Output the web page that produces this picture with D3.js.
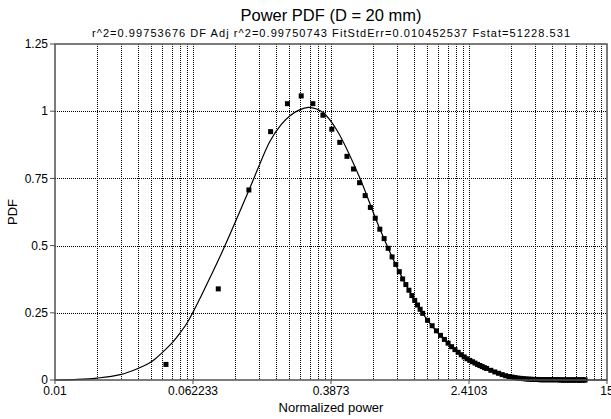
<!DOCTYPE html>
<html>
<head>
<meta charset="utf-8">
<script src="https://cdn.jsdelivr.net/npm/d3@7/dist/d3.min.js"></script>
<style>
  html, body { margin: 0; padding: 0; background: #fff; }
  svg { display: block; font-family: "Liberation Sans", Arial, sans-serif; }
</style>
</head>
<body>
<div id="chart"></div>
<script>
// measured bins (squares)
const pointX = [
  0.0435, 0.087, 0.1305, 0.174, 0.2175, 0.261, 0.3045, 0.348, 0.3915, 0.435,
  0.4785, 0.522, 0.5655, 0.609, 0.6525, 0.696, 0.7395, 0.783, 0.8265, 0.87,
  0.9135, 0.957, 1.0005, 1.044, 1.0875, 1.131, 1.1745, 1.218, 1.2615, 1.305,
  1.392, 1.479, 1.566, 1.653, 1.74, 1.827, 1.914, 2.001, 2.088, 2.175,
  2.262, 2.349, 2.436, 2.523, 2.61, 2.697, 2.784, 2.871, 2.958, 3.045,
  3.219, 3.393, 3.567, 3.741, 3.915, 4.089, 4.263, 4.437, 4.611, 4.785,
  4.959, 5.133, 5.307, 5.481, 5.655, 5.829, 6.003, 6.177, 6.351, 6.525,
  6.699, 6.873, 7.047, 7.221, 7.395, 7.569, 7.743, 7.917, 8.091, 8.265,
  8.439, 8.613, 8.787, 8.961, 9.135, 9.309, 9.483, 9.657, 9.831, 10.005,
  10.179, 10.353, 10.527, 10.701, 10.875, 11.049, 11.223
];
const pointY = [
  0.058, 0.339, 0.707, 0.924, 1.028, 1.057, 1.028, 0.985, 0.933, 0.884,
  0.832, 0.785, 0.734, 0.686, 0.642, 0.602, 0.561, 0.526, 0.490, 0.458,
  0.430, 0.403, 0.376, 0.355, 0.334, 0.314, 0.296, 0.279, 0.263, 0.248,
  0.222, 0.202, 0.183, 0.166, 0.151, 0.137, 0.124, 0.113, 0.103, 0.094,
  0.086, 0.079, 0.073, 0.068, 0.063, 0.058, 0.054, 0.050, 0.046, 0.043,
  0.036, 0.030, 0.025, 0.020, 0.016, 0.013, 0.011, 0.009, 0.007, 0.006,
  0.005, 0.004, 0.003, 0.003, 0.002, 0.002, 0.002, 0.001, 0.001, 0.001,
  0.001, 0.001, 0.001, 0.001, 0.001, 0.001, 0.001, 0.001, 0, 0,
  0, 0, 0, 0, 0, 0, 0, 0, 0, 0,
  0, 0, 0, 0, 0, 0, 0
];

// fitted curve
const fitX = [
  0.01, 0.01356, 0.01738, 0.02375, 0.02975, 0.0359, 0.0411, 0.0467, 0.0517, 0.0573,
  0.062, 0.0683, 0.089, 0.1307, 0.15, 0.1726, 0.2, 0.225, 0.255, 0.287,
  0.32, 0.35, 0.418, 0.569, 0.7, 0.87, 1.0, 1.2, 1.4, 1.7,
  2.0, 2.4, 3.0, 4.0, 5.0, 7.0, 10, 15
];
const fitY = [
  0, 0.002, 0.007, 0.02, 0.042, 0.068, 0.10, 0.135, 0.17, 0.21,
  0.25, 0.304, 0.459, 0.707, 0.80, 0.888, 0.950, 0.983, 1.005, 1.014,
  1.008, 0.994, 0.930, 0.750, 0.600, 0.458, 0.378, 0.285, 0.220, 0.155,
  0.112, 0.076, 0.045, 0.013, 0.004, 0.001, 0, 0
];

const xTicks = [0.01, 0.062233, 0.3873, 2.4103, 15];
const xTickLabels = ["0.01", "0.062233", "0.3873", "2.4103", "15"];
const yTicks = [0, 0.25, 0.5, 0.75, 1, 1.25];
const yTickLabels = ["0", "0.25", "0.5", "0.75", "1", "1.25"];

const title = "Power PDF (D = 20 mm)";
const subtitle = "r^2=0.99753676  DF Adj r^2=0.99750743  FitStdErr=0.010452537  Fstat=51228.531";

const W = 611, H = 419;
const margin = { top: 44, right: 4, bottom: 39, left: 55 };

const svg = d3.select("#chart").append("svg")
  .attr("width", W).attr("height", H);

const x = d3.scaleLog().domain([xTicks[0], xTicks[xTicks.length - 1]])
  .range([margin.left, W - margin.right]);
const y = d3.scaleLinear().domain([0, 1.25])
  .range([H - margin.bottom, margin.top]);

const axisColor = "#505050";

// minor grid: log-spaced inside each labelled interval
const gridX = [];
for (let i = 0; i < xTicks.length - 1; i++) {
  const r = xTicks[i + 1] / xTicks[i];
  for (let k = 2; k <= 9; k++) gridX.push(xTicks[i] * Math.pow(r, Math.log10(k)));
  if (i > 0) gridX.push(xTicks[i]);
}

const grid = svg.append("g")
  .attr("stroke", "#000").attr("stroke-width", 1)
  .attr("stroke-dasharray", "1,1").attr("shape-rendering", "crispEdges");

grid.selectAll(".vg").data(gridX).join("line")
  .attr("class", "vg")
  .attr("x1", d => Math.round(x(d)) + 0.5).attr("x2", d => Math.round(x(d)) + 0.5)
  .attr("y1", y(1.25)).attr("y2", y(0));

grid.selectAll(".hg").data(yTicks.slice(1, -1)).join("line")
  .attr("class", "hg")
  .attr("x1", x.range()[0]).attr("x2", x.range()[1])
  .attr("y1", d => Math.round(y(d)) + 0.5).attr("y2", d => Math.round(y(d)) + 0.5);

// fitted line
const line = d3.line()
  .x((d, i) => x(fitX[i]))
  .y(d => y(d))
  .curve(d3.curveCatmullRom.alpha(0.5));

svg.append("path")
  .datum(fitY)
  .attr("d", line)
  .attr("fill", "none")
  .attr("stroke", "#000")
  .attr("stroke-width", 1.2);

// squares
const sq = 5;
svg.append("g").selectAll("rect").data(pointY).join("rect")
  .attr("x", (d, i) => x(pointX[i]) - sq / 2)
  .attr("y", d => y(d) - sq / 2)
  .attr("width", sq).attr("height", sq)
  .attr("fill", "#000");

// frame
svg.append("rect")
  .attr("x", x.range()[0]).attr("y", y(1.25))
  .attr("width", x.range()[1] - x.range()[0])
  .attr("height", y(0) - y(1.25))
  .attr("fill", "none").attr("stroke", axisColor).attr("stroke-width", 1.5);

// y axis
const yAxis = svg.append("g");
yAxis.selectAll("line").data(yTicks).join("line")
  .attr("x1", x.range()[0] - 5).attr("x2", x.range()[0])
  .attr("y1", d => y(d)).attr("y2", d => y(d))
  .attr("stroke", axisColor).attr("stroke-width", 1);
yAxis.selectAll("text").data(yTicks).join("text")
  .attr("x", x.range()[0] - 7).attr("y", d => y(d)).attr("dy", "0.35em")
  .attr("text-anchor", "end").attr("font-size", 12).attr("fill", "#000")
  .text((d, i) => yTickLabels[i]);

// x axis
const xAxis = svg.append("g");
xAxis.selectAll("line").data(xTicks).join("line")
  .attr("x1", d => x(d)).attr("x2", d => x(d))
  .attr("y1", y(0)).attr("y2", y(0) + 4)
  .attr("stroke", axisColor).attr("stroke-width", 1);
xAxis.selectAll("text").data(xTicks).join("text")
  .attr("x", d => x(d)).attr("y", y(0) + 15)
  .attr("text-anchor", "middle").attr("font-size", 12).attr("fill", "#000")
  .text((d, i) => xTickLabels[i]);

// titles
const cx = (x.range()[0] + x.range()[1]) / 2;
svg.append("text")
  .attr("x", cx).attr("y", 21)
  .attr("text-anchor", "middle").attr("font-size", 16.5).attr("fill", "#000")
  .text(title);
svg.append("text")
  .attr("x", cx).attr("y", 37)
  .attr("text-anchor", "middle").attr("font-size", 11).attr("fill", "#000")
  .attr("textLength", 478).attr("lengthAdjust", "spacing")
  .text(subtitle);

svg.append("text")
  .attr("x", cx).attr("y", 412)
  .attr("text-anchor", "middle").attr("font-size", 13).attr("fill", "#000")
  .text("Normalized power");
svg.append("text")
  .attr("transform", `translate(17,${(y(0) + y(1.25)) / 2}) rotate(-90)`)
  .attr("text-anchor", "middle").attr("font-size", 13).attr("fill", "#000")
  .text("PDF");
</script>
</body>
</html>
